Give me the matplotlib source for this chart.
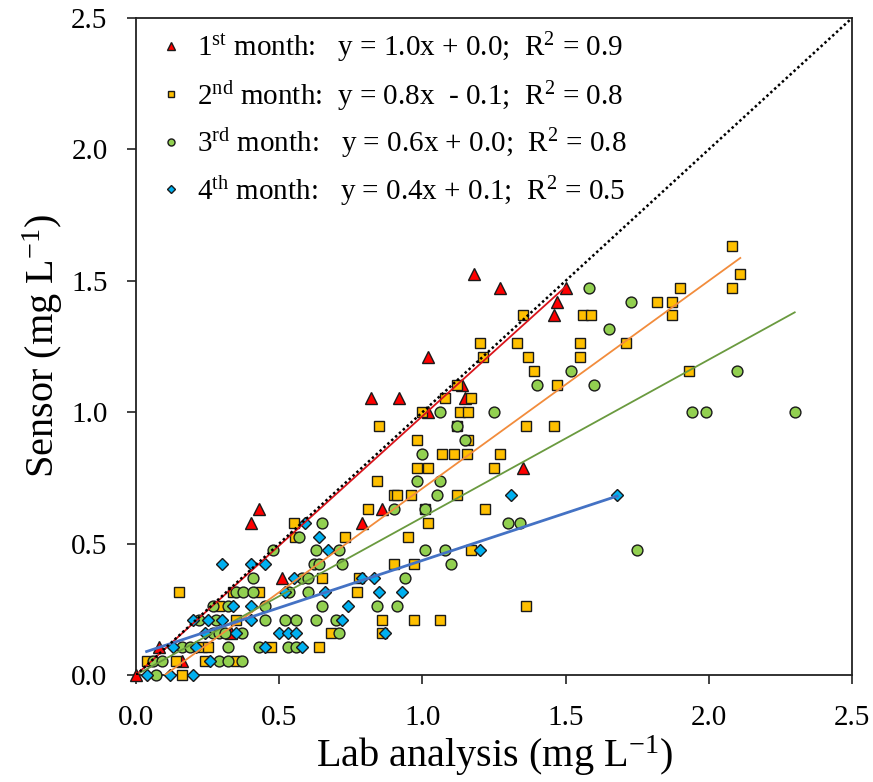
import numpy as np
import matplotlib
matplotlib.use("Agg")
import matplotlib.pyplot as plt
from matplotlib.ticker import FormatStrFormatter, MultipleLocator

plt.rcParams['font.family'] = ['Liberation Serif', 'DejaVu Serif']
plt.rcParams['mathtext.fontset'] = 'custom'
plt.rcParams['mathtext.rm'] = 'Liberation Serif'
plt.rcParams['mathtext.it'] = 'Liberation Serif:italic'
plt.rcParams['mathtext.bf'] = 'Liberation Serif:bold'

# ---------------- data (lab analysis x, sensor y), mg L-1 ----------------
m1_x = [0.00, 0.08, 0.16, 0.33, 0.40, 0.43, 0.51, 0.79, 0.86, 0.82, 0.92,
        1.02, 1.02, 1.14, 1.15, 1.18, 1.27, 1.35, 1.46, 1.47, 1.50]
m1_y = [0.000, 0.105, 0.053, 0.158, 0.579, 0.632, 0.368, 0.579, 0.632, 1.053, 1.053,
        1.211, 1.000, 1.105, 1.053, 1.526, 1.474, 0.789, 1.368, 1.421, 1.474]

m2_x = [0.16,
        0.04, 0.14, 0.24, 0.35,
        0.23, 0.25, 0.47, 0.64,
        0.68, 0.86,
        0.35, 0.86, 0.97, 1.06,
        0.29, 1.36,
        0.15, 0.34, 0.43, 0.77,
        0.65, 0.78,
        0.90, 0.97,
        1.17,
        0.555, 0.73, 0.95,
        0.55, 1.02,
        0.81, 1.01, 1.22,
        0.90, 0.91, 0.96, 1.12,
        0.84,
        0.98, 1.02, 1.25,
        1.07, 1.11, 1.155, 1.27,
        0.98, 1.16,
        0.85, 1.12, 1.36, 1.46,
        1.00, 1.13, 1.16,
        1.08, 1.17,
        1.12, 1.47,
        1.39, 1.93,
        1.21, 1.37, 1.55,
        1.20, 1.33, 1.55, 1.71,
        1.35, 1.56, 1.59, 1.87,
        1.82, 1.87,
        1.90, 2.08,
        2.11,
        2.08]
m2_y = [0.000,
        0.053, 0.053, 0.053, 0.053,
        0.105, 0.105, 0.105, 0.105,
        0.158, 0.158,
        0.211, 0.211, 0.211, 0.211,
        0.263, 0.263,
        0.316, 0.316, 0.316, 0.316,
        0.368, 0.368,
        0.421, 0.421,
        0.474,
        0.526, 0.526, 0.526,
        0.579, 0.579,
        0.632, 0.632, 0.632,
        0.684, 0.684, 0.684, 0.684,
        0.737,
        0.789, 0.789, 0.789,
        0.842, 0.842, 0.842, 0.842,
        0.895, 0.895,
        0.947, 0.947, 0.947, 0.947,
        1.000, 1.000, 1.000,
        1.053, 1.053,
        1.105, 1.105,
        1.158, 1.158,
        1.211, 1.211, 1.211,
        1.263, 1.263, 1.263, 1.263,
        1.368, 1.368, 1.368, 1.368,
        1.421, 1.421,
        1.474, 1.474,
        1.526,
        1.632]

m3_x = [0.07,
        0.06, 0.09, 0.29, 0.32, 0.37,
        0.16, 0.19, 0.32, 0.43, 0.53, 0.56,
        0.27, 0.29, 0.31, 0.37, 0.71,
        0.22, 0.28, 0.45, 0.52, 0.56, 0.63, 0.70,
        0.27, 0.32, 0.45, 0.65, 0.84, 0.91,
        0.35, 0.375, 0.41, 0.535, 0.60,
        0.41, 0.58, 0.60, 0.94,
        0.62, 0.64, 0.72, 1.10,
        0.48, 0.63, 0.71, 1.01, 1.08, 1.75,
        0.57,
        0.65, 1.30, 1.34,
        0.90, 1.01,
        1.05,
        0.98, 1.06,
        1.00,
        1.15,
        1.12,
        1.06, 1.25, 1.94, 1.99, 2.30,
        1.40, 1.60,
        1.52, 2.10,
        1.65,
        1.73,
        1.58]
m3_y = [0.000,
        0.053, 0.053, 0.053, 0.053, 0.053,
        0.105, 0.105, 0.105, 0.105, 0.105, 0.105,
        0.158, 0.158, 0.158, 0.158, 0.158,
        0.211, 0.211, 0.211, 0.211, 0.211, 0.211, 0.211,
        0.263, 0.263, 0.263, 0.263, 0.263, 0.263,
        0.316, 0.316, 0.316, 0.316, 0.316,
        0.368, 0.368, 0.368, 0.368,
        0.421, 0.421, 0.421, 0.421,
        0.474, 0.474, 0.474, 0.474, 0.474, 0.474,
        0.526,
        0.579, 0.579, 0.579,
        0.632, 0.632,
        0.684,
        0.737, 0.737,
        0.842,
        0.895,
        0.947,
        1.000, 1.000, 1.000, 1.000, 1.000,
        1.105, 1.105,
        1.158, 1.158,
        1.316,
        1.421,
        1.474]

m4_x = [0.04, 0.12, 0.20,
        0.26,
        0.13, 0.21, 0.45, 0.58,
        0.24, 0.35, 0.50, 0.53, 0.56, 0.87,
        0.20, 0.25, 0.30, 0.40, 0.72,
        0.34, 0.40, 0.74,
        0.52, 0.66, 0.85, 0.93,
        0.55, 0.79, 0.83,
        0.30, 0.40, 0.45,
        0.67, 1.20,
        0.64,
        0.59,
        1.31, 1.68]
m4_y = [0.000, 0.000, 0.000,
        0.053,
        0.105, 0.105, 0.105, 0.105,
        0.158, 0.158, 0.158, 0.158, 0.158, 0.158,
        0.211, 0.211, 0.211, 0.211, 0.211,
        0.263, 0.263, 0.263,
        0.316, 0.316, 0.316, 0.316,
        0.368, 0.368, 0.368,
        0.421, 0.421, 0.421,
        0.474, 0.474,
        0.526,
        0.579,
        0.684, 0.684]

# linear trendlines: slope, intercept, x-range
trend_slope = [0.985, 0.79, 0.60, 0.36]
trend_intercept = [0.0, -0.08, 0.0, 0.076]
trend_xmin = [0.0, 0.04, 0.013, 0.037]
trend_xmax = [1.50, 2.11, 2.30, 1.68]

legend_labels = [
    r"1$^{\mathrm{st}}$ month:   y = 1.0x + 0.0;  R$^{2}$ = 0.9",
    r"2$^{\mathrm{nd}}$ month:  y = 0.8x  - 0.1;  R$^{2}$ = 0.8",
    r"3$^{\mathrm{rd}}$ month:   y = 0.6x + 0.0;  R$^{2}$ = 0.8",
    r"4$^{\mathrm{th}}$ month:   y = 0.4x + 0.1;  R$^{2}$ = 0.5",
]

# ---------------- styles ----------------
marker_face = ['#FF0000', '#FFC000', '#92D050', '#00B0F0']
marker_shape = ['^', 's', 'o', 'D']
marker_size = [8.2, 7.6, 7.8, 6.4]
line_color = ['#D9141B', '#F28C3C', '#6A9A3F', '#4472C4']
line_width = [1.3, 1.3, 1.3, 2.0]

fig = plt.figure(figsize=(8.73, 7.82), dpi=100)
ax = fig.add_axes([136 / 873, 1 - 675 / 782, (852 - 136) / 873, (675 - 18) / 782])

series = [(m1_x, m1_y), (m2_x, m2_y), (m3_x, m3_y), (m4_x, m4_y)]
handles = []
for i, (xs, ys) in enumerate(series):
    h, = ax.plot(xs, ys, linestyle='none', marker=marker_shape[i], ms=marker_size[i],
                 mfc=marker_face[i], mec='#1a1a1a', mew=1.0, zorder=3 + i,
                 label=legend_labels[i], clip_on=False)
    handles.append(h)

for i in range(4):
    xx = np.array([trend_xmin[i], trend_xmax[i]])
    ax.plot(xx, trend_slope[i] * xx + trend_intercept[i], color=line_color[i],
            lw=line_width[i], zorder=8)

ax.plot([0, 2.5], [0, 2.5], color='black', lw=1.8, linestyle=(0, (1, 1.1)), zorder=9)

ax.set_xlim(0, 2.5)
ax.set_ylim(0, 2.5)
ax.xaxis.set_major_locator(MultipleLocator(0.5))
ax.yaxis.set_major_locator(MultipleLocator(0.5))
ax.xaxis.set_major_formatter(FormatStrFormatter('%.1f'))
ax.yaxis.set_major_formatter(FormatStrFormatter('%.1f'))
ax.tick_params(axis='both', direction='out', length=6.5, width=1.2, labelsize=21,
               colors='#222222', labelcolor='black')
ax.tick_params(axis='x', pad=15)
ax.tick_params(axis='y', pad=14)
ax.tick_params(top=False, right=False)
for s in ax.spines.values():
    s.set_linewidth(1.3)
    s.set_color('#222222')

ax.set_xlabel(r"Lab analysis (mg L$^{\mathrm{-1}}$)", fontsize=29, labelpad=2)
ax.set_ylabel(r"Sensor (mg L$^{\mathrm{-1}}$)", fontsize=29, labelpad=4)

leg = ax.legend(handles=handles, loc='upper left', bbox_to_anchor=(0.0, 1.012),
                frameon=False, fontsize=21, markerscale=0.65, handlelength=1.0,
                handletextpad=0.4, labelspacing=0.47, borderaxespad=0.3)

fig.savefig('out.png', dpi=100)
